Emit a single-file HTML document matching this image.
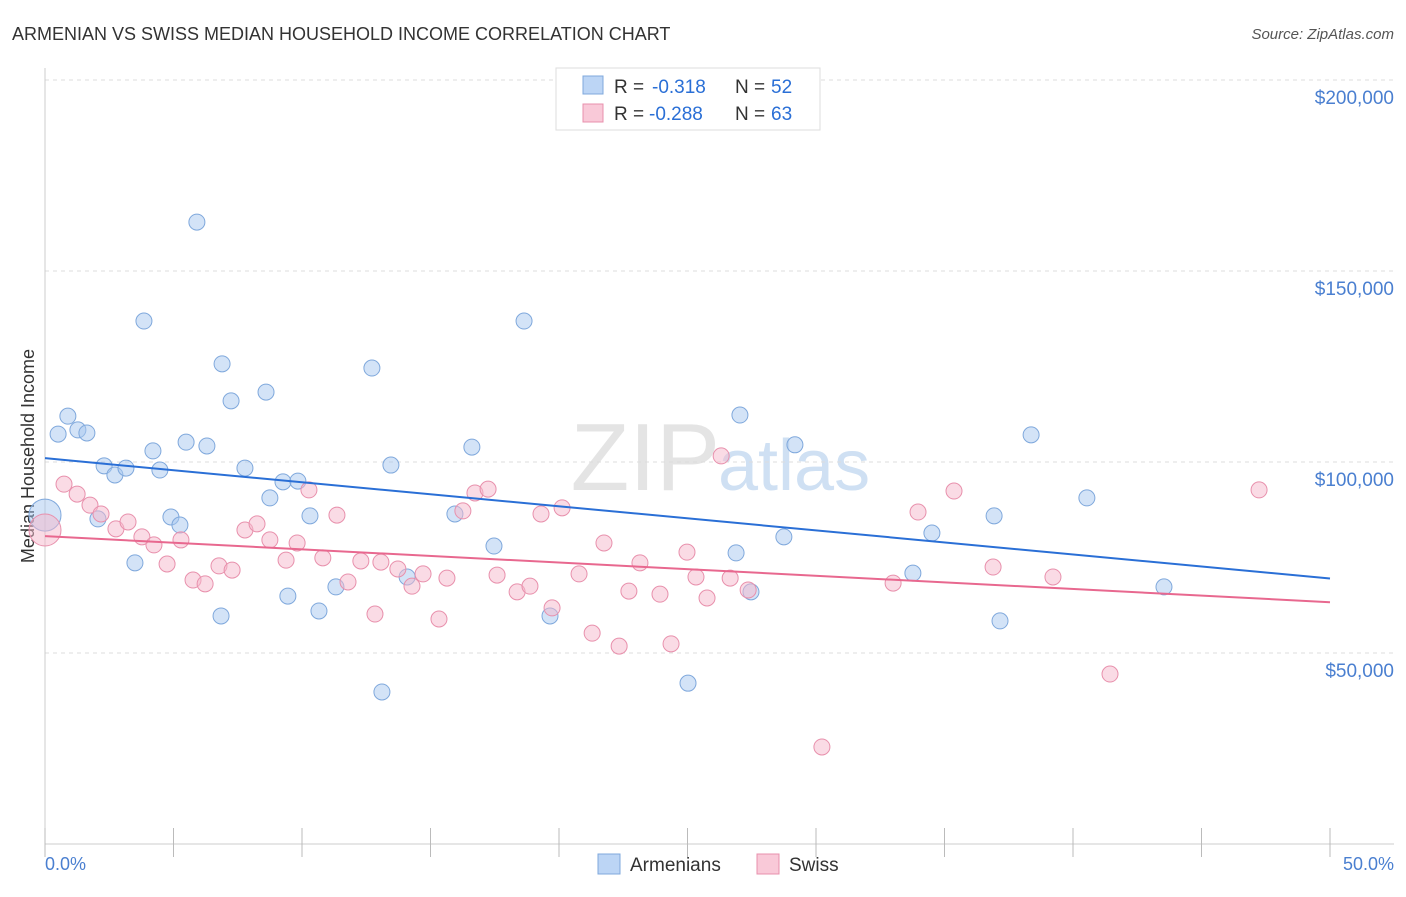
<!DOCTYPE html>
<html><head><meta charset="utf-8"><style>
body{margin:0;background:#fff;font-family:"Liberation Sans",sans-serif}
svg text{font-family:"Liberation Sans",sans-serif}
</style></head><body>
<svg width="1406" height="892" viewBox="0 0 1406 892" xmlns="http://www.w3.org/2000/svg">
<text x="12" y="40" font-size="18" fill="#333">ARMENIAN VS SWISS MEDIAN HOUSEHOLD INCOME CORRELATION CHART</text>
<text x="1394" y="39" font-size="15" fill="#555" font-style="italic" text-anchor="end">Source: ZipAtlas.com</text>
<text x="720" y="490" font-size="96" fill="#e4e4e4" text-anchor="end" font-family="Liberation Serif">ZIP</text>
<text x="718" y="490" font-size="72" fill="#cfe0f3">atlas</text>
<g id="grid"></g>
<line x1="45" y1="68" x2="45" y2="844" stroke="#ccc"/>
<line x1="45" y1="844" x2="1394" y2="844" stroke="#ccc"/>
<g id="xticks"></g>
<text x="34" y="456" font-size="18" fill="#333" text-anchor="middle" transform="rotate(-90 34 456)">Median Household Income</text>
<text x="45" y="870" font-size="18" fill="#4a7fd0">0.0%</text>
<text x="1394" y="870" font-size="18" fill="#4a7fd0" text-anchor="end">50.0%</text>
<g id="pts"></g>
<g id="trends"></g>
<g>
<rect x="556" y="68" width="264" height="62" fill="#fff" stroke="#ddd"/>
<rect x="583" y="76" width="20" height="18" fill="#bcd5f5" stroke="#7fa8dc"/>
<rect x="583" y="104" width="20" height="18" fill="#f9c9d8" stroke="#e890ac"/>
<text x="614" y="93" font-size="19" fill="#333">R =</text>
<text x="652" y="93" font-size="19" fill="#2a6fd6">-0.318</text>
<text x="735" y="93" font-size="19" fill="#333">N =</text>
<text x="771" y="93" font-size="19" fill="#2a6fd6">52</text>
<text x="614" y="120" font-size="19" fill="#333">R =</text>
<text x="649" y="120" font-size="19" fill="#2a6fd6">-0.288</text>
<text x="735" y="120" font-size="19" fill="#333">N =</text>
<text x="771" y="120" font-size="19" fill="#2a6fd6">63</text>
</g>
<g>
<rect x="598" y="854" width="22" height="20" fill="#bcd5f5" stroke="#7fa8dc"/>
<text x="630" y="871" font-size="19" fill="#333">Armenians</text>
<rect x="757" y="854" width="22" height="20" fill="#f9c9d8" stroke="#e890ac"/>
<text x="789" y="871" font-size="19" fill="#333">Swiss</text>
</g>
</svg>
<script>
const yTicks=[50,100,150,200];
const xTickVals=[0,5,10,15,20,25,30,35,40,45,50];
const blueX=[0,0.51,0.89,1.28,1.63,2.06,2.30,2.72,3.15,3.50,3.85,4.20,4.47,4.90,5.25,5.49,5.91,6.30,6.85,6.89,7.24,7.78,8.60,8.75,9.26,9.45,9.84,10.31,10.66,11.32,12.72,13.11,13.46,14.09,15.95,16.61,17.47,18.64,19.65,25.02,26.89,27.04,27.47,28.75,29.18,33.77,34.51,36.93,37.16,38.37,40.54,43.54];
const blueY=[86.1,107.3,112.0,108.4,107.6,85.1,99.0,96.6,98.4,73.6,136.9,102.9,97.9,85.6,83.5,105.2,162.8,104.2,59.7,125.7,116.0,98.4,118.3,90.6,94.8,64.9,95.0,85.9,61.0,67.3,124.6,39.8,99.2,69.9,86.4,103.9,78.0,136.9,59.7,42.1,76.2,112.3,66.0,80.4,104.5,70.9,81.4,85.9,58.4,107.1,90.6,67.3];
const pinkX=[0,0.74,1.25,1.75,2.18,2.76,3.23,3.77,4.24,4.75,5.29,5.76,6.23,6.77,7.28,7.78,8.25,8.75,9.38,9.81,10.27,10.81,11.36,11.79,12.29,12.84,13.07,13.73,14.28,14.71,15.33,15.64,16.26,16.73,17.24,17.59,18.37,18.87,19.30,19.73,20.12,20.78,21.29,21.75,22.34,22.72,23.15,23.93,24.36,24.98,25.33,25.76,26.31,26.66,27.36,30.23,33.00,33.97,35.37,36.89,39.22,41.44,47.24];
const pinkY=[82.2,94.2,91.6,88.7,86.4,82.5,84.3,80.4,78.3,73.3,79.6,69.1,68.1,72.8,71.7,82.2,83.8,79.6,74.3,78.8,92.7,74.9,86.1,68.6,74.1,60.2,73.8,72.0,67.5,70.7,58.9,69.6,87.2,91.9,92.9,70.4,66.0,67.5,86.4,61.8,88.0,70.7,55.2,78.8,51.8,66.2,73.6,65.4,52.4,76.4,69.9,64.4,101.6,69.6,66.5,25.4,68.3,86.9,92.4,72.5,69.9,44.5,92.7];
const blueTrend=[101.0,69.5];
const pinkTrend=[80.6,63.3];
const NS="http://www.w3.org/2000/svg";
const X=v=>45+v/50*1285, Y=v=>653-(v-50)*191/50;
function mk(t,a,p){const e=document.createElementNS(NS,t);for(const k in a)e.setAttribute(k,a[k]);document.getElementById(p).appendChild(e);return e;}
yTicks.forEach(t=>{
 const l=mk('line',{x1:45,x2:1394,y1:Y(t),y2:Y(t),stroke:'#ddd','stroke-dasharray':'4,4'},'grid');
 
 
 const tx=mk('text',{x:1394,y:Y(t)+24,'font-size':19,fill:'#4a7fd0','text-anchor':'end'},'grid');
 tx.textContent='$'+(t*1000).toLocaleString('en-US');
 
 
});
xTickVals.forEach(t=>{
 const l=mk('line',{x1:X(t),x2:X(t),y1:828,y2:857,stroke:'#bbb'},'xticks');
 
 
});
function pts(xs,ys,fill,stroke,name){
 xs.forEach((x,i)=>{
  const r=i===0?16:8;
  const c=mk('circle',{cx:X(x),cy:Y(ys[i]),r:r,fill:fill,'fill-opacity':0.5,stroke:stroke,'stroke-width':1},'pts');
  
  
 });
}
pts(blueX,blueY,'#a8c8f0','#7fa8dc','armenian-point');
pts(pinkX,pinkY,'#f5b8cc','#e890ac','swiss-point');
const bt=mk('line',{x1:X(0),x2:X(50),y1:Y(blueTrend[0]),y2:Y(blueTrend[1]),stroke:'#2a6fd6','stroke-width':2},'trends');


const pt=mk('line',{x1:X(0),x2:X(50),y1:Y(pinkTrend[0]),y2:Y(pinkTrend[1]),stroke:'#e8688f','stroke-width':2},'trends');


</script>
</body></html>
